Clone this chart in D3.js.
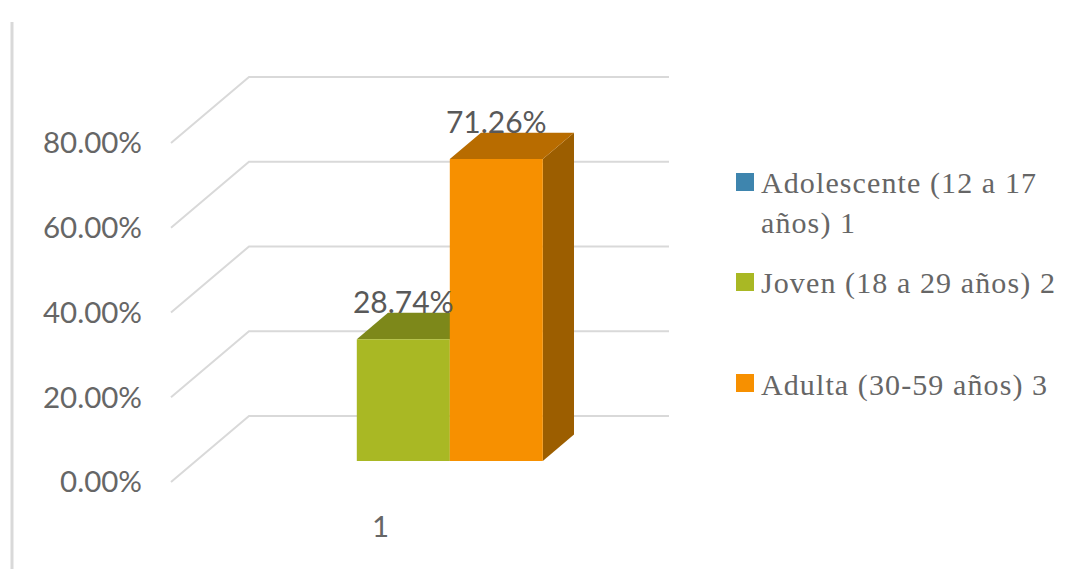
<!DOCTYPE html>
<html>
<head>
<meta charset="utf-8">
<script src="https://cdn.jsdelivr.net/npm/d3@7"></script>
<style>
  html, body { margin: 0; padding: 0; background: #fff; }
  svg { display: block; }
  .num { font-family: Lato, "Open Sans", sans-serif; fill: #595959; }
  .axis-text { fill: #666; }
  .leg { font-family: "Liberation Serif", serif; fill: #666; letter-spacing: 1.1px; }
</style>
</head>
<body>
<svg id="chart" width="1083" height="569"></svg>
<script>
// Age groups and their shares (percent)
const categories = ["1"];
const seriesNames = ["Adolescente (12 a 17 años) 1", "Joven (18 a 29 años) 2", "Adulta (30-59 años) 3"];
const seriesValues = [0, 28.74, 71.26];
const tickValues = [0, 20, 40, 60, 80];
const legendLines = [["Adolescente (12 a 17", "años) 1"], ["Joven (18 a 29 años) 2"], ["Adulta (30-59 años) 3"]];
const faceColors = ["#3e85ae", "#a9b824", "#f79000"];
const topColors = ["#2d6180", "#7d881a", "#b86c00"];
const sideColors = ["#265470", "#6b7416", "#9c5e00"];

const svg = d3.select("#chart");

// Oblique projection: depth 0 is the front of the floor, depth 1 the back wall
const depthX = d3.scaleLinear().domain([0, 1]).range([0, 78]);
const depthY = d3.scaleLinear().domain([0, 1]).range([0, -66]);
const y = d3.scaleLinear().domain([0, 80]).range([482, 143]);
const cat = d3.scaleBand().domain(categories).range([239, 518]);
const x = d3.scaleBand().domain(seriesNames).range([cat(categories[0]), cat(categories[0]) + cat.bandwidth()]);

const project = (px, v, d) => [px + depthX(d), y(v) + depthY(d)];
const poly = pts => pts.map(p => p.join(",")).join(" ");

// Frame line at the left edge
svg.append("line").attr("x1", 12).attr("x2", 12).attr("y1", 22).attr("y2", 569)
  .attr("stroke", "#d9d9d9").attr("stroke-width", 3);

// Floor diagonals and back-wall gridlines
const wallLeft = 171, wallRight = 591;
svg.append("g").selectAll("polyline").data(tickValues).join("polyline")
  .attr("fill", "none").attr("stroke", "#d9d9d9").attr("stroke-width", 2)
  .attr("points", v => poly([project(wallLeft, v, 0), project(wallLeft, v, 1), project(wallRight, v, 1)]));

// Value axis
const yAxis = svg.append("g").attr("transform", "translate(142,0)")
  .call(d3.axisLeft(y).tickValues(tickValues).tickSize(0).tickPadding(0).tickFormat(v => v.toFixed(2) + "%"));
yAxis.select(".domain").remove();
yAxis.attr("font-family", null).attr("font-size", null);
yAxis.selectAll("text").attr("class", "num axis-text").attr("font-size", 29.5).attr("dy", "0.33em");

// Category axis
const xAxis = svg.append("g").attr("transform", "translate(2,510)")
  .call(d3.axisBottom(cat).tickSize(0).tickPadding(0));
xAxis.select(".domain").remove();
xAxis.attr("font-family", null).attr("font-size", null);
xAxis.selectAll("text").attr("class", "num axis-text").attr("font-size", 29.5).attr("dy", "0.9em");

// Bars sit between these two depths on the floor
const d0 = 0.318, d1 = 0.718;
const rows = seriesNames.map((name, i) => ({ name, value: seriesValues[i], i })).filter(r => r.value > 0);

const bars = svg.append("g").selectAll("g").data(rows).join("g");
bars.append("polygon").attr("fill", r => sideColors[r.i]).attr("points", r => {
  const a = x(r.name) + x.bandwidth();
  return poly([project(a, 0, d0), project(a, 0, d1), project(a, r.value, d1), project(a, r.value, d0)]);
});
bars.append("polygon").attr("fill", r => topColors[r.i]).attr("points", r => {
  const a = x(r.name), b = a + x.bandwidth();
  return poly([project(a, r.value, d0), project(a, r.value, d1), project(b, r.value, d1), project(b, r.value, d0)]);
});
bars.append("polygon").attr("fill", r => faceColors[r.i]).attr("points", r => {
  const a = x(r.name), b = a + x.bandwidth();
  return poly([project(a, 0, d0), project(b, 0, d0), project(b, r.value, d0), project(a, r.value, d0)]);
});

// Value labels above each bar
svg.append("g").selectAll("text").data(rows).join("text")
  .attr("class", "num").attr("font-size", 30).attr("text-anchor", "middle")
  .attr("x", r => project(x(r.name) + x.bandwidth() / 2, r.value, d0)[0])
  .attr("y", r => project(0, r.value, d0)[1] - 26.5)
  .text(r => r.value.toFixed(2) + "%");

// Legend
const swatchTops = [173, 273, 374];
const legendBase = [[193, 233], [293], [395]];
const legend = svg.append("g").selectAll("g").data(legendLines).join("g");
legend.append("rect").attr("x", 736).attr("width", 18).attr("height", 18)
  .attr("y", (d, i) => swatchTops[i]).attr("fill", (d, i) => faceColors[i]);
legend.each(function (lines, i) {
  d3.select(this).selectAll("text").data(lines).join("text")
    .attr("class", "leg").attr("x", 761).attr("font-size", 30)
    .attr("y", (l, j) => legendBase[i][j]).text(l => l);
});
</script>
</body>
</html>
